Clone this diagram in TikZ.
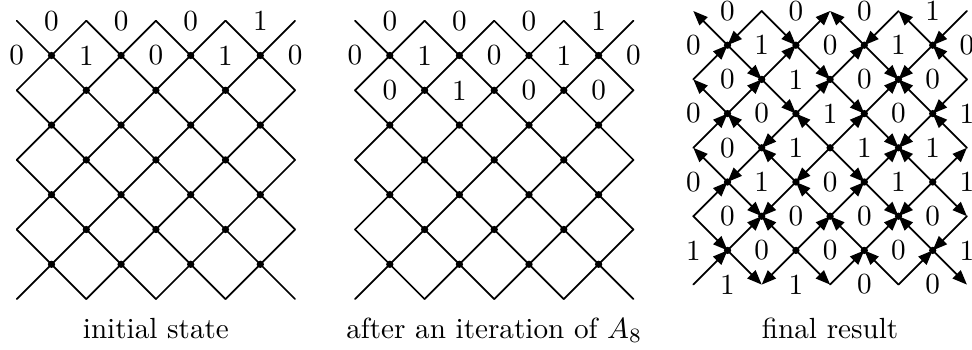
\documentclass[tikz,border=0pt]{standalone}
\usetikzlibrary{arrows.meta}
\tikzset{
  gridline/.style={line width=0.6pt, line cap=round},
  arr/.style={line width=0.6pt, line cap=round, -{Triangle[length=5pt,width=3.9pt]}},
  lab/.style={inner sep=0pt, font=\fontsize{10}{12}\selectfont},
  captext/.style={inner sep=0pt, font=\fontsize{10}{12}\selectfont, anchor=base},
}
\newcommand{\mkcoords}[4]{%
  \foreach \c in {0,...,8}{\foreach \r in {0,...,8}{
    \coordinate (#1-\c-\r) at ({#2+#4*\c},{#3+#4*\r});
  }}}
\newcommand{\mkgrid}[1]{%
  \foreach \c in {0,...,7}{\foreach \r in {0,...,7}{
    \pgfmathtruncatemacro{\cn}{\c+1}\pgfmathtruncatemacro{\rn}{\r+1}%
    \pgfmathtruncatemacro{\pty}{mod(\c+\r,2)}%
    \ifnum\pty=0 \draw[gridline] (#1-\c-\r) -- (#1-\cn-\rn);
    \else \draw[gridline] (#1-\cn-\r) -- (#1-\c-\rn);
    \fi
  }}}
\newcommand{\mkdots}[1]{%
  \foreach \c in {1,...,7}{\foreach \r in {1,...,7}{
    \pgfmathtruncatemacro{\pty}{mod(\c+\r,2)}%
    \ifnum\pty=0 \fill (#1-\c-\r) circle[radius=1.25pt];\fi
  }}}
\newcommand{\mklabels}[2]{%
  \foreach \c/\r/\v in {#2}{%
    \node[lab] (#1l-\c-\r) at (#1-\c-\r) {\v};
    \expandafter\xdef\csname lab#1-\c-\r\endcsname{\v}%
  }}
\begin{document}
\begin{tikzpicture}[x=0.343pt,y=-0.343pt]
\useasboundingbox (0,0) rectangle (972,349);
% panel coordinates
\mkcoords{A}{16.7}{20.7}{34.8}
\mkcoords{B}{355}{20.7}{34.8}
\mkcoords{C}{693.3}{11}{34.2}
% panel 1
\mkgrid{A}
\mkdots{A}
\mklabels{A}{1/0/0,3/0/0,5/0/0,7/0/1,0/1/0,2/1/1,4/1/0,6/1/1,8/1/0}
% panel 2
\mkgrid{B}
\mkdots{B}
\mklabels{B}{1/0/0,3/0/0,5/0/0,7/0/1,0/1/0,2/1/1,4/1/0,6/1/1,8/1/0,1/2/0,3/2/1,5/2/0,7/2/0}
% panel 3 labels
\mklabels{C}{1/0/0,3/0/0,5/0/0,7/0/1,
  0/1/0,2/1/1,4/1/0,6/1/1,8/1/0,
  1/2/0,3/2/1,5/2/0,7/2/0,
  0/3/0,2/3/0,4/3/1,6/3/0,8/3/1,
  1/4/0,3/4/1,5/4/1,7/4/1,
  0/5/0,2/5/1,4/5/0,6/5/1,8/5/1,
  1/6/0,3/6/0,5/6/0,7/6/0,
  0/7/1,2/7/0,4/7/0,6/7/0,8/7/1,
  1/8/1,3/8/1,5/8/0,7/8/0}
% panel 3 arrows: equal labels -> arrow points up, different -> down
\foreach \c in {0,...,7}{\foreach \r in {0,...,7}{
  \pgfmathtruncatemacro{\cn}{\c+1}\pgfmathtruncatemacro{\rn}{\r+1}%
  \pgfmathtruncatemacro{\pty}{mod(\c+\r,2)}%
  \ifnum\pty=0
    \xdef\ua{\c-\r}\xdef\lb{\cn-\rn}%
    \xdef\fa{\csname labC-\cn-\r\endcsname}\xdef\fb{\csname labC-\c-\rn\endcsname}%
  \else
    \xdef\ua{\cn-\r}\xdef\lb{\c-\rn}%
    \xdef\fa{\csname labC-\c-\r\endcsname}\xdef\fb{\csname labC-\cn-\rn\endcsname}%
  \fi
  \ifnum\fa=\fb\relax
    \draw[arr] (C-\lb) -- (C-\ua);
  \else
    \draw[arr] (C-\ua) -- (C-\lb);
  \fi
}}
\mkdots{C}
% captions
\node[captext] (cap1) at (155.9,338) {initial state};
\node[captext] (cap2) at (494.2,338) {after an iteration of $A_8$};
\node[captext] (cap3) at (830.1,338) {final result};
\end{tikzpicture}
\end{document}
